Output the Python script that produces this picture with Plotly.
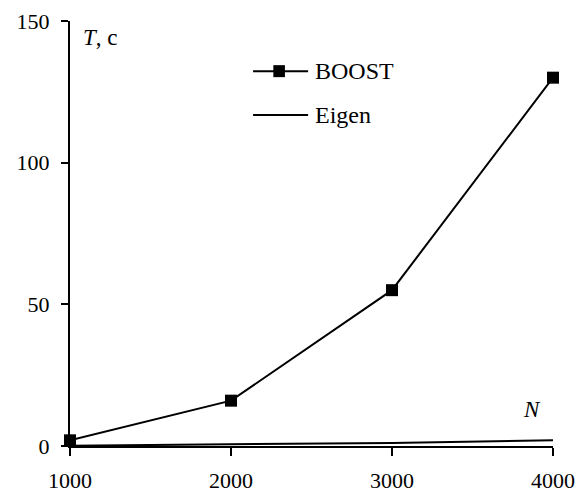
import plotly.graph_objects as go

n_values = [1000, 2000, 3000, 4000]
boost_times = [2, 16, 55, 130]
eigen_times = [0.1, 0.5, 1.1, 2.0]
y_ticks = [0, 50, 100, 150]
x_ticks = [1000, 2000, 3000, 4000]

FONT = "Liberation Serif, Times New Roman, serif"

fig = go.Figure()
fig.add_trace(go.Scatter(x=n_values, y=boost_times, mode="lines+markers", name="BOOST",
                         line=dict(color="black", width=2),
                         marker=dict(symbol="square", size=12, color="black"),
                         showlegend=False, cliponaxis=False))
fig.add_trace(go.Scatter(x=n_values, y=eigen_times, mode="lines", name="Eigen",
                         line=dict(color="black", width=2), showlegend=False, cliponaxis=False))

# custom legend (paper coordinates)
lx0, lx1 = 0.379, 0.493
yb, ye = 0.882, 0.779
fig.add_shape(type="line", xref="paper", yref="paper", x0=lx0, x1=lx1, y0=yb, y1=yb,
              line=dict(color="black", width=2))
fig.add_shape(type="rect", xref="paper", yref="paper", x0=0.421, x1=0.445,
              y0=yb - 0.0141, y1=yb + 0.0141, fillcolor="black", line=dict(width=0))
fig.add_shape(type="line", xref="paper", yref="paper", x0=lx0, x1=lx1, y0=ye, y1=ye,
              line=dict(color="black", width=2))
fig.add_annotation(text="BOOST", xref="paper", yref="paper", x=0.503, y=yb,
                   xanchor="left", yanchor="middle", showarrow=False, font=dict(size=24))
fig.add_annotation(text="Eigen", xref="paper", yref="paper", x=0.503, y=ye,
                   xanchor="left", yanchor="middle", showarrow=False, font=dict(size=24))

fig.add_annotation(text="<i>T</i>, c", xref="paper", yref="paper", x=0.022, y=0.962,
                   xanchor="left", yanchor="middle", showarrow=False, font=dict(size=23))
fig.add_annotation(text="<i>N</i>", xref="paper", yref="paper", x=0.98, y=0.085,
                   xanchor="right", yanchor="middle", showarrow=False, font=dict(size=23))

fig.update_layout(
    width=583, height=498,
    margin=dict(l=70, r=30, t=21, b=52),
    paper_bgcolor="white", plot_bgcolor="white",
    font=dict(family=FONT, size=22, color="black"),
    xaxis=dict(range=[1000, 4000], tickvals=x_ticks, showgrid=False, zeroline=False,
               showline=True, linecolor="black", linewidth=2, ticks="outside",
               ticklen=8, tickwidth=2, tickcolor="black", ticklabelstandoff=6,
               automargin=False),
    yaxis=dict(range=[0, 150], tickvals=y_ticks, showgrid=False, zeroline=False,
               showline=True, linecolor="black", linewidth=2, ticks="outside",
               ticklen=7, tickwidth=2, tickcolor="black", ticklabelstandoff=7,
               automargin=False),
)

fig.write_html(
    "out.html",
    config={"displayModeBar": False, "responsive": False},
    post_script=("document.body.style.margin='0';"
                 "document.documentElement.style.overflow='hidden';"
                 "document.body.style.overflow='hidden';"),
)
